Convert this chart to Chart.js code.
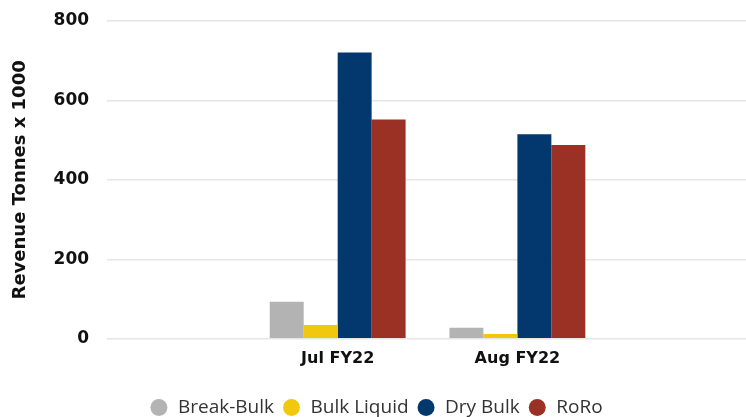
<!DOCTYPE html>
<html>
<head>
<meta charset="utf-8">
<script src="https://cdn.jsdelivr.net/npm/chart.js@4.4.0/dist/chart.umd.min.js"></script>
<style>
  html, body { margin: 0; padding: 0; background: #fff; overflow: hidden; }
  #wrap { width: 746px; height: 417px; }
</style>
</head>
<body>
<div id="wrap"><canvas id="grafica" width="746" height="417"></canvas></div>
<script>
// datos
const meses = ["Jul FY22", "Aug FY22"];
const posiciones = [1, 2];
const breakBulk = [93, 28];
const bulkLiquid = [35, 12];
const dryBulk = [721, 515];
const roro = [552, 488];
const ticksY = [0, 200, 400, 600, 800];

function puntos(valores) {
  return valores.map((v, i) => ({ x: posiciones[i], y: v }));
}

const fuenteNegrita = "'DejaVu Sans', Arial, sans-serif";

const ctx = document.getElementById("grafica").getContext("2d");
const chart = new Chart(ctx, {
  type: "bar",
  data: {
    datasets: [
      { label: "Break-Bulk", backgroundColor: "#B3B3B3", data: puntos(breakBulk) },
      { label: "Bulk Liquid", backgroundColor: "#F2C80F", data: puntos(bulkLiquid) },
      { label: "Dry Bulk", backgroundColor: "#02386E", data: puntos(dryBulk) },
      { label: "RoRo", backgroundColor: "#9A3124", data: puntos(roro) },
    ],
  },
  options: {
    responsive: false,
    animation: false,
    layout: { padding: { top: 21, right: 0, left: 6, bottom: -10 } },
    datasets: { bar: { barPercentage: 1, categoryPercentage: 0.756 } },
    plugins: {
      tooltip: { enabled: false },
      legend: {
        position: "bottom",
        labels: {
          usePointStyle: true,
          pointStyle: "circle",
          boxHeight: 12,
          padding: 8,
          color: "#333",
          font: { family: "'Open Sans', sans-serif", size: 19 },
        },
      },
    },
    scales: {
      x: {
        type: "linear",
        offset: false,
        min: -0.283,
        max: 3.272,
        grid: { display: false, offset: false },
        border: { display: false },
        afterBuildTicks: (axis) => {
          axis.ticks = posiciones.map((p) => ({ value: p }));
        },
        afterFit: (axis) => {
          axis.height += 20;
        },
        ticks: {
          color: "#111",
          font: { family: fuenteNegrita, size: 16, weight: "bold" },
          padding: 2,
          maxRotation: 0,
          callback: (v) => meses[posiciones.indexOf(v)] || "",
        },
      },
      y: {
        min: 0,
        max: 800,
        afterBuildTicks: (axis) => {
          axis.ticks = ticksY.map((t) => ({ value: t }));
        },
        afterFit: (axis) => {
          axis.paddingTop = 0;
          axis.paddingBottom = 0;
        },
        grid: { color: "#E6E6E6", lineWidth: 1.5, drawTicks: false },
        border: { display: false },
        ticks: {
          color: "#111",
          padding: 18,
          font: { family: fuenteNegrita, size: 17, weight: "bold" },
        },
        title: {
          display: true,
          text: "Revenue Tonnes x 1000",
          color: "#111",
          padding: { bottom: 4 },
          font: { family: fuenteNegrita, size: 18, weight: "bold" },
        },
      },
    },
  },
});
</script>
</body>
</html>
